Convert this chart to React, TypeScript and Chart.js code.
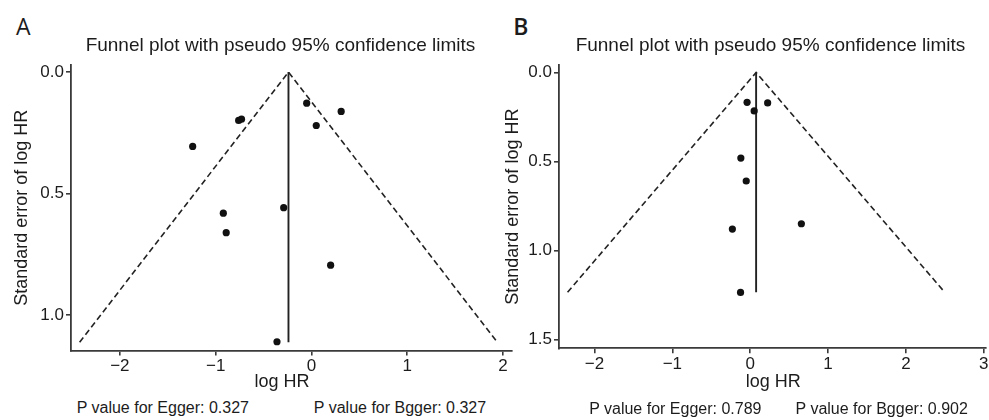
import React, { useEffect, useRef } from "react";
import { Chart, registerables } from "chart.js";

Chart.register(...registerables);

const chartTitle = "Funnel plot with pseudo 95% confidence limits";
const xAxisTitle = "log HR";
const yAxisTitle = "Standard error of log HR";

// Panel A
const panelLabelA = "A";
const logHrA = [-0.05, 0.31, 0.05, -0.76, -0.73, -1.24, -0.29, -0.92, -0.89, 0.2, -0.36];
const seA = [0.128, 0.162, 0.22, 0.199, 0.194, 0.306, 0.558, 0.581, 0.661, 0.795, 1.11];
const funnelXA = [-2.42, -0.24, 1.94];
const funnelYA = [1.112, 0, 1.112];
const pooledXA = [-0.24, -0.24];
const pooledYA = [0, 1.112];
const xTicksA = [-2, -1, 0, 1, 2];
const yTicksA = [0, 0.5, 1.0];
const pValuesA = ["P value for Egger: 0.327", "P value for Bgger: 0.327"];

// Panel B
const panelLabelB = "B";
const logHrB = [-0.04, 0.224, 0.051, -0.12, -0.051, 0.657, -0.229, -0.124];
const seB = [0.168, 0.171, 0.216, 0.481, 0.61, 0.85, 0.88, 1.236];
const funnelXB = [-2.345, 0.076, 2.497];
const funnelYB = [1.235, 0, 1.235];
const pooledXB = [0.076, 0.076];
const pooledYB = [0, 1.235];
const xTicksB = [-2, -1, 0, 1, 2, 3];
const yTicksB = [0, 0.5, 1.0, 1.5];
const pValuesB = ["P value for Egger: 0.789", "P value for Bgger: 0.902"];

const FONT = "'Liberation Sans', Arial, Helvetica, sans-serif";
const INK = "#1c1c1c";
const AXIS = "#3a3a3a";

type PanelProps = {
  left: number;
  width: number;
  yAxisWidth: number;
  xAxisHeight: number;
  padRight: number;
  yTitlePad: number;
  xs: number[];
  ys: number[];
  fx: number[];
  fy: number[];
  px: number[];
  py: number[];
  xMin: number;
  xMax: number;
  yMin: number;
  yMax: number;
  xTicks: number[];
  yTicks: number[];
};

const toPts = (xs: number[], ys: number[]) => xs.map((x, i) => ({ x, y: ys[i] }));
const fmtX = (v: number) => (v < 0 ? "\u2212" + Math.abs(v) : String(v));

function FunnelPanel(p: PanelProps) {
  const ref = useRef<HTMLCanvasElement>(null);
  const top = 50;
  const height = 345;
  useEffect(() => {
    const chart = new Chart(ref.current as HTMLCanvasElement, {
      type: "scatter",
      data: {
        datasets: [
          {
            label: "funnel",
            data: toPts(p.fx, p.fy),
            showLine: true,
            borderColor: "#222",
            borderWidth: 1.6,
            borderDash: [6, 3.5],
            pointRadius: 0,
            fill: false,
            order: 2,
          },
          {
            label: "pooled",
            data: toPts(p.px, p.py),
            showLine: true,
            borderColor: "#222",
            borderWidth: 1.9,
            pointRadius: 0,
            fill: false,
            order: 2,
          },
          {
            label: "studies",
            data: toPts(p.xs, p.ys),
            pointRadius: 3.6,
            pointHoverRadius: 3.6,
            backgroundColor: "#111",
            borderColor: "#111",
            borderWidth: 0,
            order: 1,
          },
        ],
      },
      options: {
        animation: false,
        responsive: false,
        layout: { padding: { left: 0, top: 15, right: p.padRight, bottom: 0 } },
        plugins: {
          legend: { display: false },
          tooltip: { enabled: false },
        },
        scales: {
          x: {
            type: "linear",
            min: p.xMin,
            max: p.xMax,
            afterBuildTicks: (s: any) => {
              s.ticks = p.xTicks.map((v) => ({ value: v }));
            },
            afterFit: (s: any) => {
              s.height = p.xAxisHeight;
              s.paddingLeft = 0;
              s.paddingRight = 0;
            },
            grid: {
              drawOnChartArea: false,
              drawTicks: true,
              tickLength: 5,
              color: AXIS,
              lineWidth: 1.6,
            },
            border: { display: true, color: AXIS, width: 1.8 },
            ticks: {
              color: INK,
              font: { family: FONT, size: 17 },
              padding: 1,
              maxRotation: 0,
              autoSkip: false,
              callback: (v: any) => fmtX(Number(v)),
            },
            title: { display: false },
          },
          y: {
            type: "linear",
            reverse: true,
            min: p.yMin,
            max: p.yMax,
            afterBuildTicks: (s: any) => {
              s.ticks = p.yTicks.map((v) => ({ value: v }));
            },
            afterFit: (s: any) => {
              s.width = p.yAxisWidth;
              s.paddingTop = 0;
              s.paddingBottom = 0;
            },
            grid: {
              drawOnChartArea: false,
              drawTicks: true,
              tickLength: 5,
              color: AXIS,
              lineWidth: 1.6,
            },
            border: { display: true, color: AXIS, width: 1.8 },
            ticks: {
              color: INK,
              font: { family: FONT, size: 17 },
              padding: 2,
              autoSkip: false,
              callback: (v: any) => Number(v).toFixed(1),
            },
            title: {
              display: true,
              text: yAxisTitle,
              color: INK,
              font: { family: FONT, size: 18 },
              padding: { top: p.yTitlePad, bottom: 0 },
            },
          },
        },
      },
    } as any);
    return () => chart.destroy();
  }, []);
  return (
    <canvas
      ref={ref}
      width={p.width}
      height={height}
      style={{ position: "absolute", left: p.left, top, width: p.width, height }}
    />
  );
}

function Label(props: { x: number; y: number; text: string; size: number; family?: string; weight?: number }) {
  return (
    <div
      style={{
        position: "absolute",
        left: props.x,
        top: props.y,
        transform: "translate(-50%, -50%)",
        whiteSpace: "nowrap",
        fontFamily: props.family || FONT,
        fontSize: props.size,
        fontWeight: props.weight || 400,
        lineHeight: 1,
        color: INK,
      }}
    >
      {props.text}
    </div>
  );
}

export default function App() {
  useEffect(() => {
    document.body.style.margin = "0";
  }, []);
  return (
    <div style={{ position: "relative", width: 989, height: 420, background: "#fff", overflow: "hidden" }}>
      <FunnelPanel
        left={0}
        width={520}
        yAxisWidth={71}
        xAxisHeight={44.5}
        padRight={8.3}
        yTitlePad={11.2}
        xs={logHrA}
        ys={seA}
        fx={funnelXA}
        fy={funnelYA}
        px={pooledXA}
        py={pooledYA}
        xMin={-2.51}
        xMax={2.09}
        yMin={-0.029}
        yMax={1.146}
        xTicks={xTicksA}
        yTicks={yTicksA}
      />
      <FunnelPanel
        left={494}
        width={495}
        yAxisWidth={65}
        xAxisHeight={46.7}
        padRight={0}
        yTitlePad={8.2}
        xs={logHrB}
        ys={seB}
        fx={funnelXB}
        fy={funnelYB}
        px={pooledXB}
        py={pooledYB}
        xMin={-2.455}
        xMax={3.02}
        yMin={-0.042}
        yMax={1.55}
        xTicks={xTicksB}
        yTicks={yTicksB}
      />
      <Label x={23.3} y={25.5} text={panelLabelA} size={23} family="'Open Sans', sans-serif" />
      <Label x={520.8} y={25.5} text={panelLabelB} size={23} family="'Open Sans', sans-serif" weight={600} />
      <Label x={280.5} y={43.5} text={chartTitle} size={19} />
      <Label x={770.5} y={43.5} text={chartTitle} size={19} />
      <Label x={282} y={380.5} text={xAxisTitle} size={18} />
      <Label x={773.3} y={380.5} text={xAxisTitle} size={18} />
      <Label x={162.8} y={408} text={pValuesA[0]} size={16} />
      <Label x={400} y={408} text={pValuesA[1]} size={16} />
      <Label x={675.3} y={409} text={pValuesB[0]} size={16} />
      <Label x={881.7} y={409} text={pValuesB[1]} size={16} />
    </div>
  );
}
